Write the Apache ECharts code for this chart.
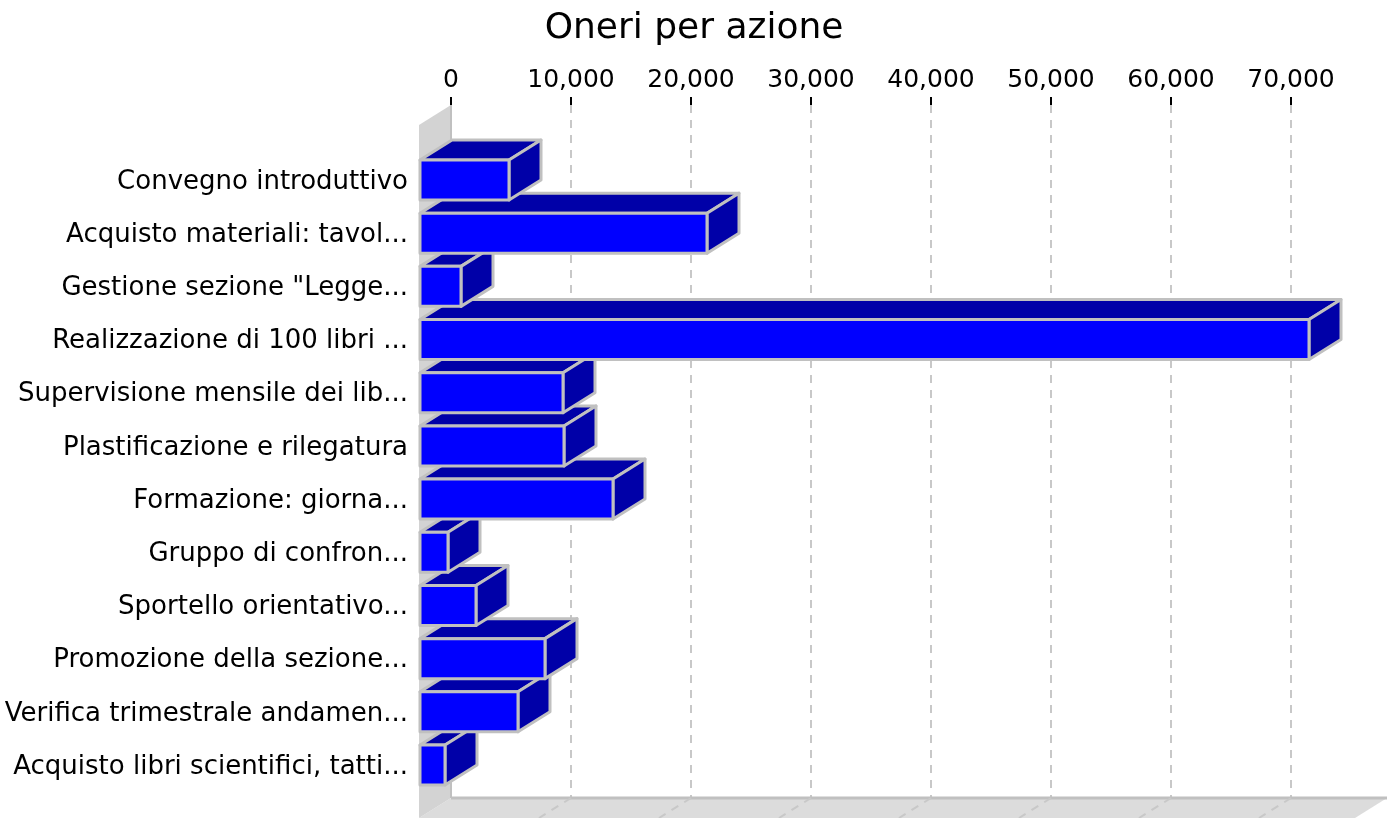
<!DOCTYPE html>
<html>
<head>
<meta charset="utf-8">
<style>
	html, body { margin: 0; padding: 0; background: #fff; }
	#chart { width: 1394px; height: 818px; }
</style>
<script src="https://cdn.jsdelivr.net/npm/echarts@6/dist/echarts.min.js"></script>
</head>
<body>
<div id="chart"></div>
<script>
var titleText = 'Oneri per azione';
var categories = [
	'Convegno introduttivo',
	'Acquisto materiali: tavol...',
	'Gestione sezione "Legge...',
	'Realizzazione di 100 libri ...',
	'Supervisione mensile dei lib...',
	'Plastificazione e rilegatura',
	'Formazione: giorna...',
	'Gruppo di confron...',
	'Sportello orientativo...',
	'Promozione della sezione...',
	'Verifica trimestrale andamen...',
	'Acquisto libri scientifici, tatti...'
];
var oneri = [7500, 24000, 3500, 74167, 12000, 12083, 16167, 2417, 4750, 10500, 8250, 2167];
var tickValues = [0, 10000, 20000, 30000, 40000, 50000, 60000, 70000];
var axisMax = 78000;

var depthX = 32, depthY = 20; // scostamento della finta prospettiva 3D
var labelShift = 2; // le etichette stanno un po' sotto il centro delle barre
var edge = '#c0c0c0';

var font = '"DejaVu Sans", sans-serif';

// le barre sono disegnate dal basso verso l'alto, le prime coprono le successive
var barData = [];
for (var i = oneri.length - 1; i >= 0; i--) {
	barData.push([oneri[i], i]);
}

function renderBar(params, api) {
	var back = api.coord([api.value(0), api.value(1)]);
	var zero = api.coord([0, api.value(1)]);
	var x0 = zero[0] - depthX + 1, x1 = back[0] - depthX;
	var y0 = back[1] - labelShift - 20, y1 = back[1] - labelShift + 20;
	var style = { stroke: edge, lineWidth: 3, lineJoin: 'round' };
	return {
		type: 'group',
		children: [{
			type: 'polygon',
			shape: { points: [[x0, y0], [x0 + depthX, y0 - depthY], [x1 + depthX, y0 - depthY], [x1, y0]] },
			style: Object.assign({ fill: '#0000a8' }, style)
		}, {
			type: 'polygon',
			shape: { points: [[x1, y0], [x1 + depthX, y0 - depthY], [x1 + depthX, y1 - depthY], [x1, y1]] },
			style: Object.assign({ fill: '#0000a8' }, style)
		}, {
			type: 'rect',
			shape: { x: x0, y: y0, width: x1 - x0, height: y1 - y0 },
			style: Object.assign({ fill: '#0000ff' }, style)
		}]
	};
}

function renderWalls(params, api) {
	var c = params.coordSys;
	var l = c.x, r = c.x + c.width, t = c.y, b = c.y + c.height;
	return {
		type: 'group',
		children: [{
			type: 'polygon',
			shape: { points: [[l, b], [r, b], [r - depthX, b + depthY], [l - depthX, b + depthY]] },
			style: { fill: '#dcdcdc' }
		}, {
			type: 'polygon',
			shape: { points: [[l - depthX, t + depthY], [l, t], [l, b], [l - depthX, b + depthY]] },
			style: { fill: '#d3d3d3' }
		}, {
			type: 'line',
			shape: { x1: l, y1: t, x2: l, y2: b },
			style: { stroke: edge, lineWidth: 2 }
		}, {
			type: 'line',
			shape: { x1: l, y1: b, x2: r, y2: b },
			style: { stroke: edge, lineWidth: 3 }
		}]
	};
}

function renderFloorLine(params, api) {
	var p = api.coord([api.value(0), 0]);
	return {
		type: 'line',
		shape: { x1: p[0], y1: p[1], x2: p[0] - depthX, y2: p[1] + depthY },
		style: { stroke: '#c8c8c8', lineWidth: 2, lineDash: [8, 7] }
	};
}

var myChart = echarts.init(document.getElementById('chart'));
myChart.setOption({
	animation: false,
	backgroundColor: '#fff',
	title: {
		text: titleText,
		left: 689,
		top: 6,
		textAlign: 'center',
		textStyle: { fontFamily: font, fontSize: 36, fontWeight: 'normal', color: '#000' }
	},
	grid: [
		{ left: 451, top: 105, width: 936, height: 693 },
		{ left: 451, top: 153.4 + labelShift, width: 936, height: 638.2 }
	],
	xAxis: [{
		gridIndex: 0,
		type: 'value',
		position: 'top',
		min: 0,
		max: axisMax,
		interval: 10000,
		axisLine: { show: false, onZero: false },
		axisTick: { show: true, length: 8, customValues: tickValues, lineStyle: { color: '#000', width: 2 } },
		axisLabel: {
			margin: 12,
			customValues: tickValues,
			fontFamily: font,
			fontSize: 25,
			color: '#000',
			formatter: function(v) { return v.toLocaleString('en-US'); }
		},
		splitLine: { show: true, showMinLine: false, lineStyle: { color: '#c8c8c8', width: 2, type: [8, 7] } }
	}, {
		gridIndex: 1,
		type: 'value',
		min: 0,
		max: axisMax,
		show: false
	}],
	yAxis: [{
		gridIndex: 0,
		type: 'value',
		min: 0,
		max: 1,
		show: false
	}, {
		gridIndex: 1,
		type: 'category',
		inverse: true,
		data: categories,
		axisLine: { show: false },
		axisTick: { show: false },
		axisLabel: { margin: 43, interval: 0, fontFamily: font, fontSize: 26, color: '#000' }
	}],
	series: [{
		type: 'custom',
		xAxisIndex: 0,
		yAxisIndex: 0,
		renderItem: renderWalls,
		data: [[0]],
		silent: true
	}, {
		type: 'custom',
		xAxisIndex: 0,
		yAxisIndex: 0,
		renderItem: renderFloorLine,
		data: tickValues.slice(1).map(function(v) { return [v]; }),
		encode: { x: 0 },
		silent: true
	}, {
		type: 'custom',
		xAxisIndex: 1,
		yAxisIndex: 1,
		renderItem: renderBar,
		data: barData,
		encode: { x: 0, y: 1 }
	}]
});
</script>
</body>
</html>
